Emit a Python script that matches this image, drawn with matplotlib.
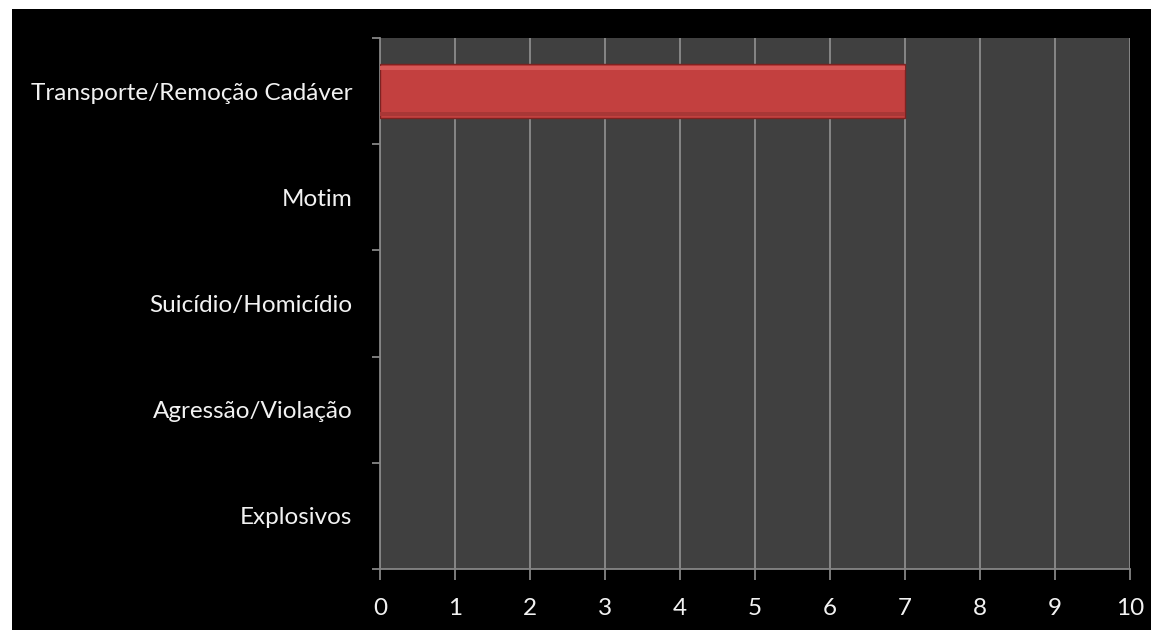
import matplotlib.pyplot as plt
import numpy as np
from matplotlib.patches import Rectangle

categories = ["Explosivos", "Agressão/Violação", "Suicídio/Homicídio",
              "Motim", "Transporte/Remoção Cadáver"]
values = [0, 0, 0, 0, 7]
xticks = list(range(0, 11))

fig = plt.figure(figsize=(11.51, 6.30), dpi=100, facecolor="white")
# black slide background (thin white margin on top/left like the source)
fig.patches.append(Rectangle((12 / 1151, 0), 1, 1 - 9 / 630, transform=fig.transFigure,
                             facecolor="black", edgecolor="none", zorder=-10))

ax = fig.add_axes([380 / 1151, 61 / 630, 750 / 1151, 531 / 630])
ax.set_facecolor("#404040")

y = np.arange(len(categories))
edges = ["#7E2221" if v > 0 else "none" for v in values]
# bar body + bevel-ish highlight and shadow
ax.barh(y, values, height=0.51, color="#C3403F", edgecolor=edges, linewidth=1.0, zorder=3)
ax.barh(y + 0.215, values, height=0.04, color="#D85857", linewidth=0, zorder=4)
ax.barh(y - 0.215, values, height=0.04, color="#A93736", linewidth=0, zorder=4)

ax.set_xlim(0, 10)
ax.set_ylim(-0.5, len(categories) - 0.5)
ax.set_xticks(xticks)
ax.set_yticks(y)
ax.set_yticklabels(categories)
ax.set_yticks(np.arange(-0.5, len(categories)), minor=True)

ax.grid(axis="x", color="#8C8C8C", linewidth=1.3, zorder=1)
for s in ["top", "right"]:
    ax.spines[s].set_visible(False)
for s in ["left", "bottom"]:
    ax.spines[s].set_color("#868686")
    ax.spines[s].set_linewidth(1.3)

font = "Lato"
ax.tick_params(axis="x", colors="#868686", length=8, width=1.3, pad=13,
               labelcolor="#F2F2F2", labelsize=17.5)
ax.tick_params(axis="y", which="major", length=0, pad=20, labelcolor="#F2F2F2", labelsize=17.5)
ax.tick_params(axis="y", which="minor", colors="#868686", length=6, width=1.3)
for lab in ax.get_xticklabels() + ax.get_yticklabels():
    lab.set_fontfamily(font)

fig.savefig("out.png", dpi=100, facecolor=fig.get_facecolor())
